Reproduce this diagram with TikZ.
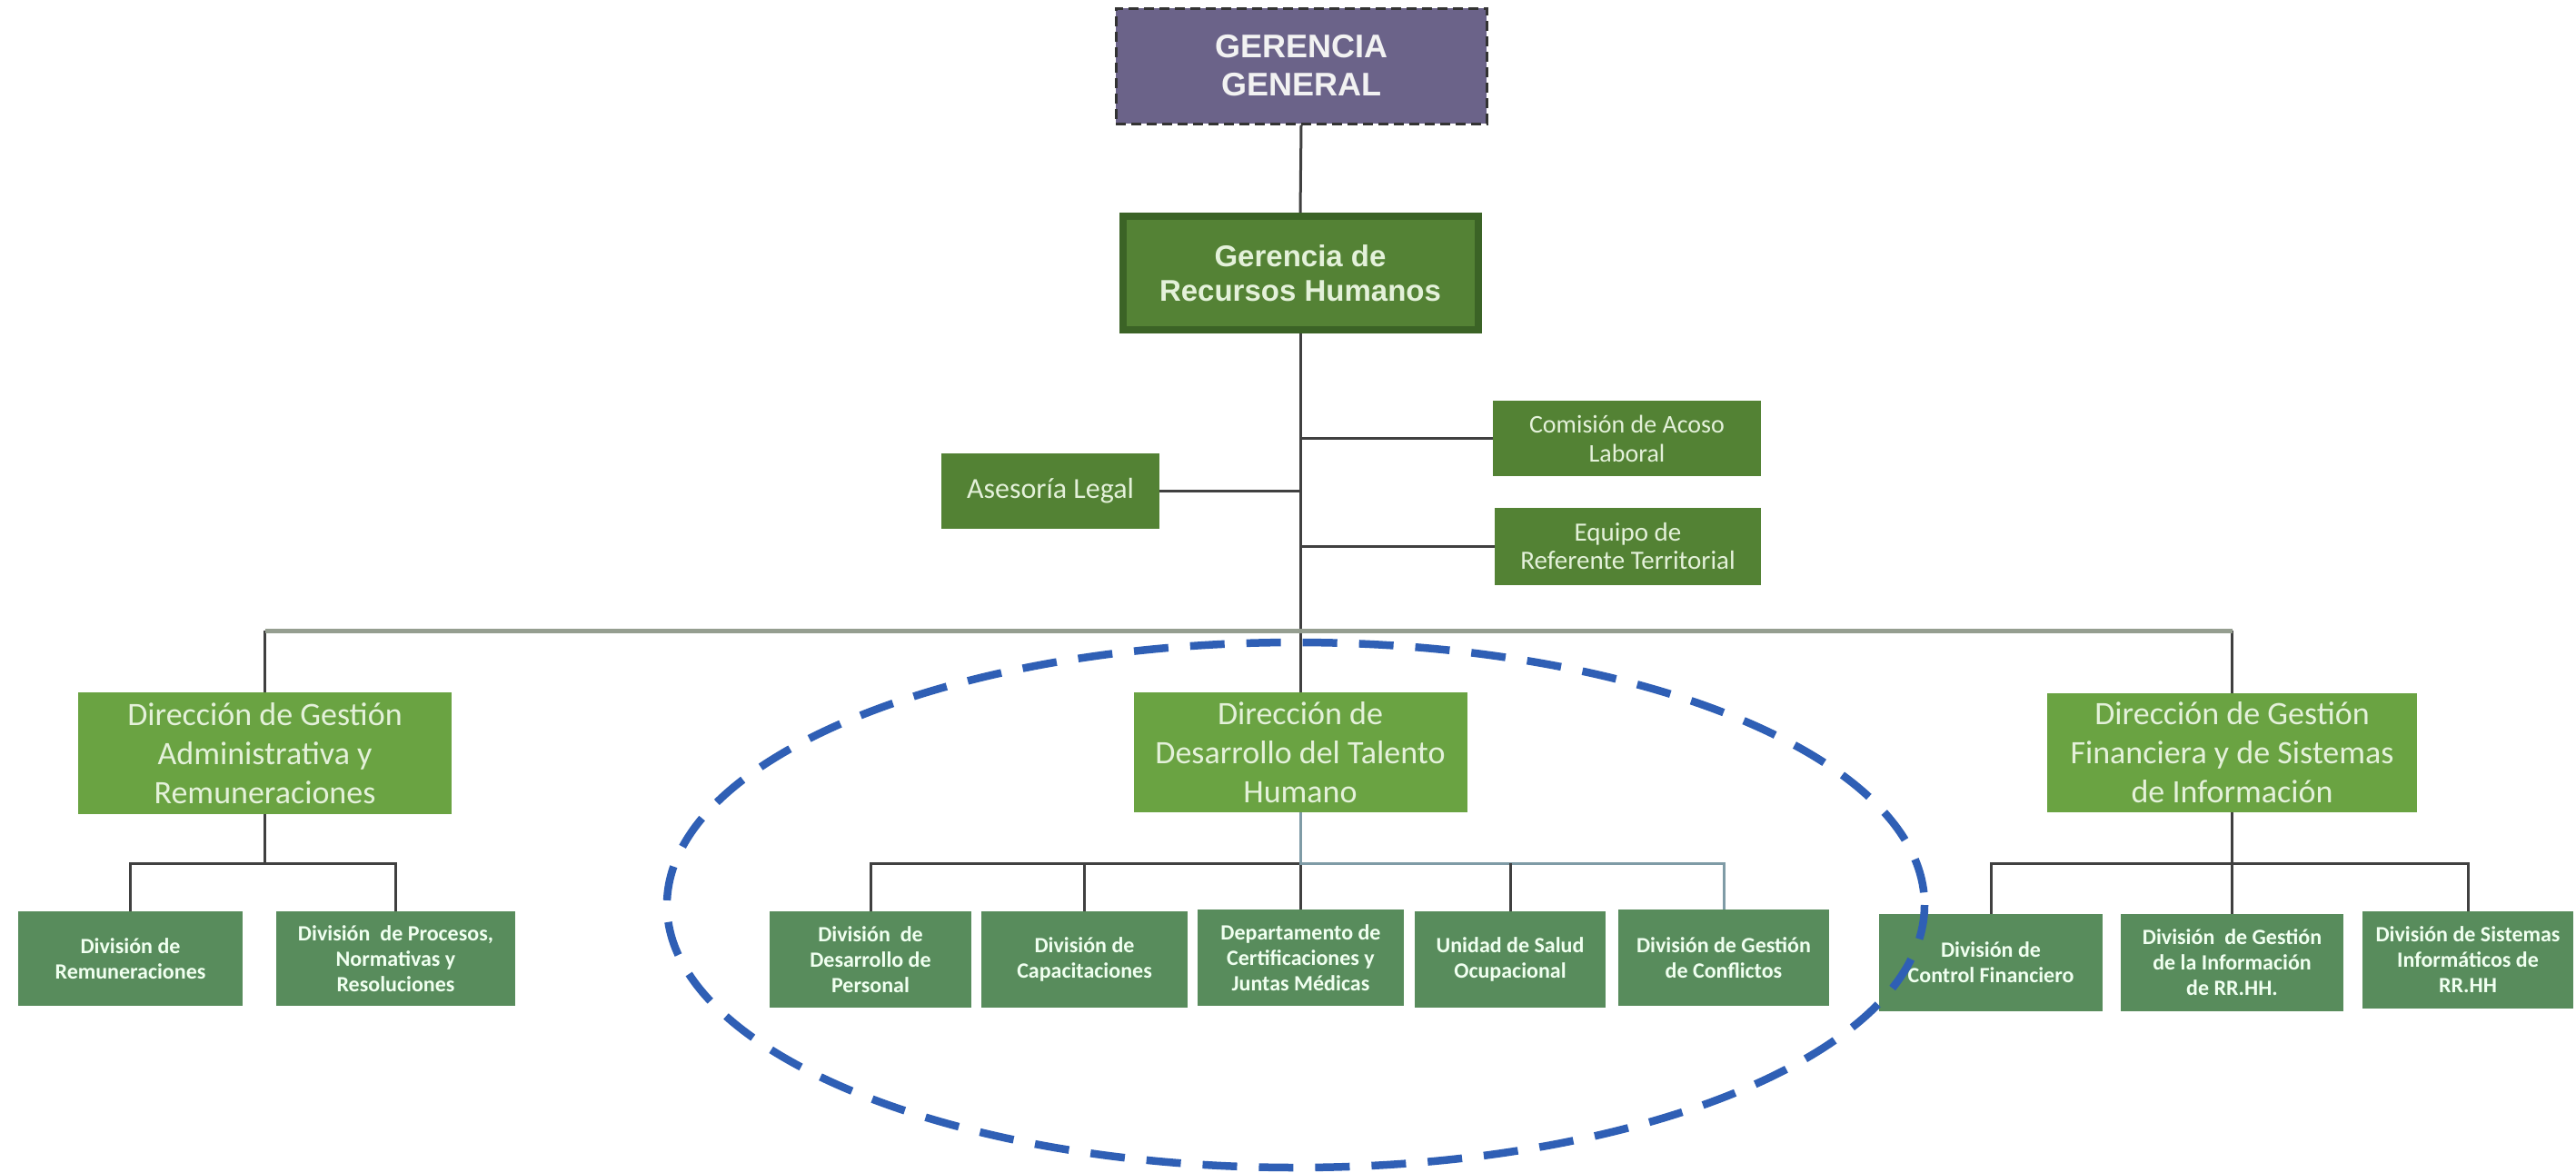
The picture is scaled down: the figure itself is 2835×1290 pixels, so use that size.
\documentclass[tikz,border=0pt]{standalone}
\usepackage{fontspec}
\setmainfont{Carlito}
\newfontfamily\arialfont{Liberation Sans}
\definecolor{ggfill}{HTML}{6B6389}
\definecolor{grhfill}{HTML}{548235}
\definecolor{grhedge}{HTML}{3B6326}
\definecolor{stafffill}{HTML}{538234}
\definecolor{dirfill}{HTML}{6AA342}
\definecolor{divfill}{HTML}{588C5C}
\definecolor{palegreen}{HTML}{E4F1DA}
\definecolor{linegray}{HTML}{404040}
\definecolor{busgray}{HTML}{959E90}
\definecolor{teallink}{HTML}{7F9BA6}
\definecolor{ovalblue}{HTML}{2F5FB5}
\tikzset{
  box/.style={rectangle, inner sep=0pt, align=center},
  topbox/.style={box, fill=ggfill, draw=black!80, dash pattern=on 11bp off 6bp, line width=3bp, text=white!95!black,
    font=\arialfont\bfseries\fontsize{36bp}{42bp}\selectfont},
  hrbox/.style={box, fill=grhfill, draw=grhedge, line width=8bp, text=palegreen,
    font=\arialfont\bfseries\fontsize{33bp}{38bp}\selectfont},
  staffbox/.style={box, fill=stafffill, text=palegreen, font=\fontsize{28bp}{32bp}\selectfont},
  dirbox/.style={box, fill=dirfill, text=palegreen, font=\fontsize{36bp}{43bp}\selectfont},
  divbox/.style={box, fill=divfill, text=white!94!green, font=\bfseries\fontsize{24bp}{28bp}\selectfont},
  link/.style={draw=linegray, line width=3bp},
  mainbus/.style={draw=busgray, line width=5bp},
  oval/.style={draw=ovalblue, line width=8.5bp, dash pattern=on 38bp off 24bp}
}
\begin{document}
\begin{tikzpicture}[x=1bp,y=-1bp]
\useasboundingbox[fill=white] (0,0) rectangle (2835,1290);

% top management
\node[topbox, minimum width=408bp, minimum height=127bp] (gg) at (1432,72.5) {GERENCIA\\GENERAL};
\node[hrbox, minimum width=391bp, minimum height=125bp] (grh) at (1431,300.5) {Gerencia de\\Recursos Humanos};

% staff units
\node[staffbox, minimum width=295bp, minimum height=83bp] (com) at (1790.5,482.5) {Comisión de Acoso\\Laboral};
\node[staffbox, minimum width=240bp, minimum height=83bp, font=\fontsize{32bp}{36bp}\selectfont] (ase) at (1156,540.5) {Asesoría Legal};
\node[staffbox, minimum width=293bp, minimum height=85bp, font=\fontsize{29bp}{31bp}\selectfont] (equ) at (1791.5,601.5) {Equipo de\\Referente Territorial};

% directorates
\node[dirbox, minimum width=411bp, minimum height=134bp] (dadm) at (291.5,829) {Dirección de Gestión\\Administrativa y\\Remuneraciones};
\node[dirbox, minimum width=367bp, minimum height=132bp] (ddes) at (1431,828) {Dirección de\\Desarrollo del Talento\\Humano};
\node[dirbox, minimum width=407bp, minimum height=131bp] (dfin) at (2456.5,828.5) {Dirección de Gestión\\Financiera y de Sistemas\\de Información};

% divisions
\node[divbox, minimum width=247bp, minimum height=104bp] (rem) at (143.5,1055) {División de\\Remuneraciones};
\node[divbox, minimum width=263bp, minimum height=104bp] (proc) at (435.5,1055) {División\ \ de Procesos,\\Normativas y\\Resoluciones};

\node[divbox, minimum width=222bp, minimum height=106bp] (dper) at (958,1056) {División\ \ de\\Desarrollo de\\Personal};
\node[divbox, minimum width=227bp, minimum height=106bp] (cap) at (1193.5,1056) {División de\\Capacitaciones};
\node[divbox, minimum width=227bp, minimum height=106bp] (cert) at (1431.5,1054) {Departamento de\\Certificaciones y\\Juntas Médicas};
\node[divbox, minimum width=210bp, minimum height=106bp] (salud) at (1662,1056) {Unidad de Salud\\Ocupacional};
\node[divbox, minimum width=232bp, minimum height=106bp] (confl) at (1897,1054) {División de Gestión\\de Conflictos};

\node[divbox, minimum width=246bp, minimum height=107bp] (ctrl) at (2191,1059.5) {División de\\Control Financiero};
\node[divbox, minimum width=245bp, minimum height=107bp] (ginfo) at (2456.5,1059.5) {División\ \ de Gestión\\de la Información\\de RR.HH.};
\node[divbox, minimum width=232bp, minimum height=107bp] (sist) at (2716,1056.5) {División de Sistemas\\Informáticos de\\RR.HH};

% bus levels
\coordinate (b1) at (0,694);
\coordinate (b2) at (0,950);

% vertical spine
\draw[link] (gg.south) -- (grh.north);
\draw[link] (grh.south) -- (grh.south |- b1);
\draw[link] (ddes.north |- b1) -- (ddes.north);

% staff links
\draw[link] (ase.east) -- (ase.east -| grh.south);
\draw[link] (com.west) -- (com.west -| grh.south);
\draw[link] (equ.west) -- (equ.west -| grh.south);

% directorate bus
\draw[link] (dadm.north |- b1) -- (dadm.north);
\draw[link] (dfin.north |- b1) -- (dfin.north);
\draw[mainbus] (dadm.north |- b1) -- (dfin.north |- b1);

% administrative branch
\draw[link] (dadm.south) -- (dadm.south |- b2);
\draw[link] (rem.north) -- (rem.north |- b2) -- (proc.north |- b2) -- (proc.north);

% talent development branch
\draw[link] (dper.north) -- (dper.north |- b2) -- (ddes.south |- b2);
\draw[link] (cap.north) -- (cap.north |- b2);
\draw[link] (cert.north) -- (cert.north |- b2);
\draw[link, draw=teallink] (ddes.south) -- (ddes.south |- b2) -- (confl.north |- b2) -- (confl.north);
\draw[link] (salud.north) -- (salud.north |- b2);

% financial branch
\draw[link] (dfin.south) -- (dfin.south |- b2);
\draw[link] (ctrl.north) -- (ctrl.north |- b2) -- (sist.north |- b2) -- (sist.north);
\draw[link] (ginfo.north) -- (ginfo.north |- b2);

% highlight around the talent development directorate
\draw[oval] (1426,996) ellipse [x radius=692, y radius=289];
\end{tikzpicture}
\end{document}
